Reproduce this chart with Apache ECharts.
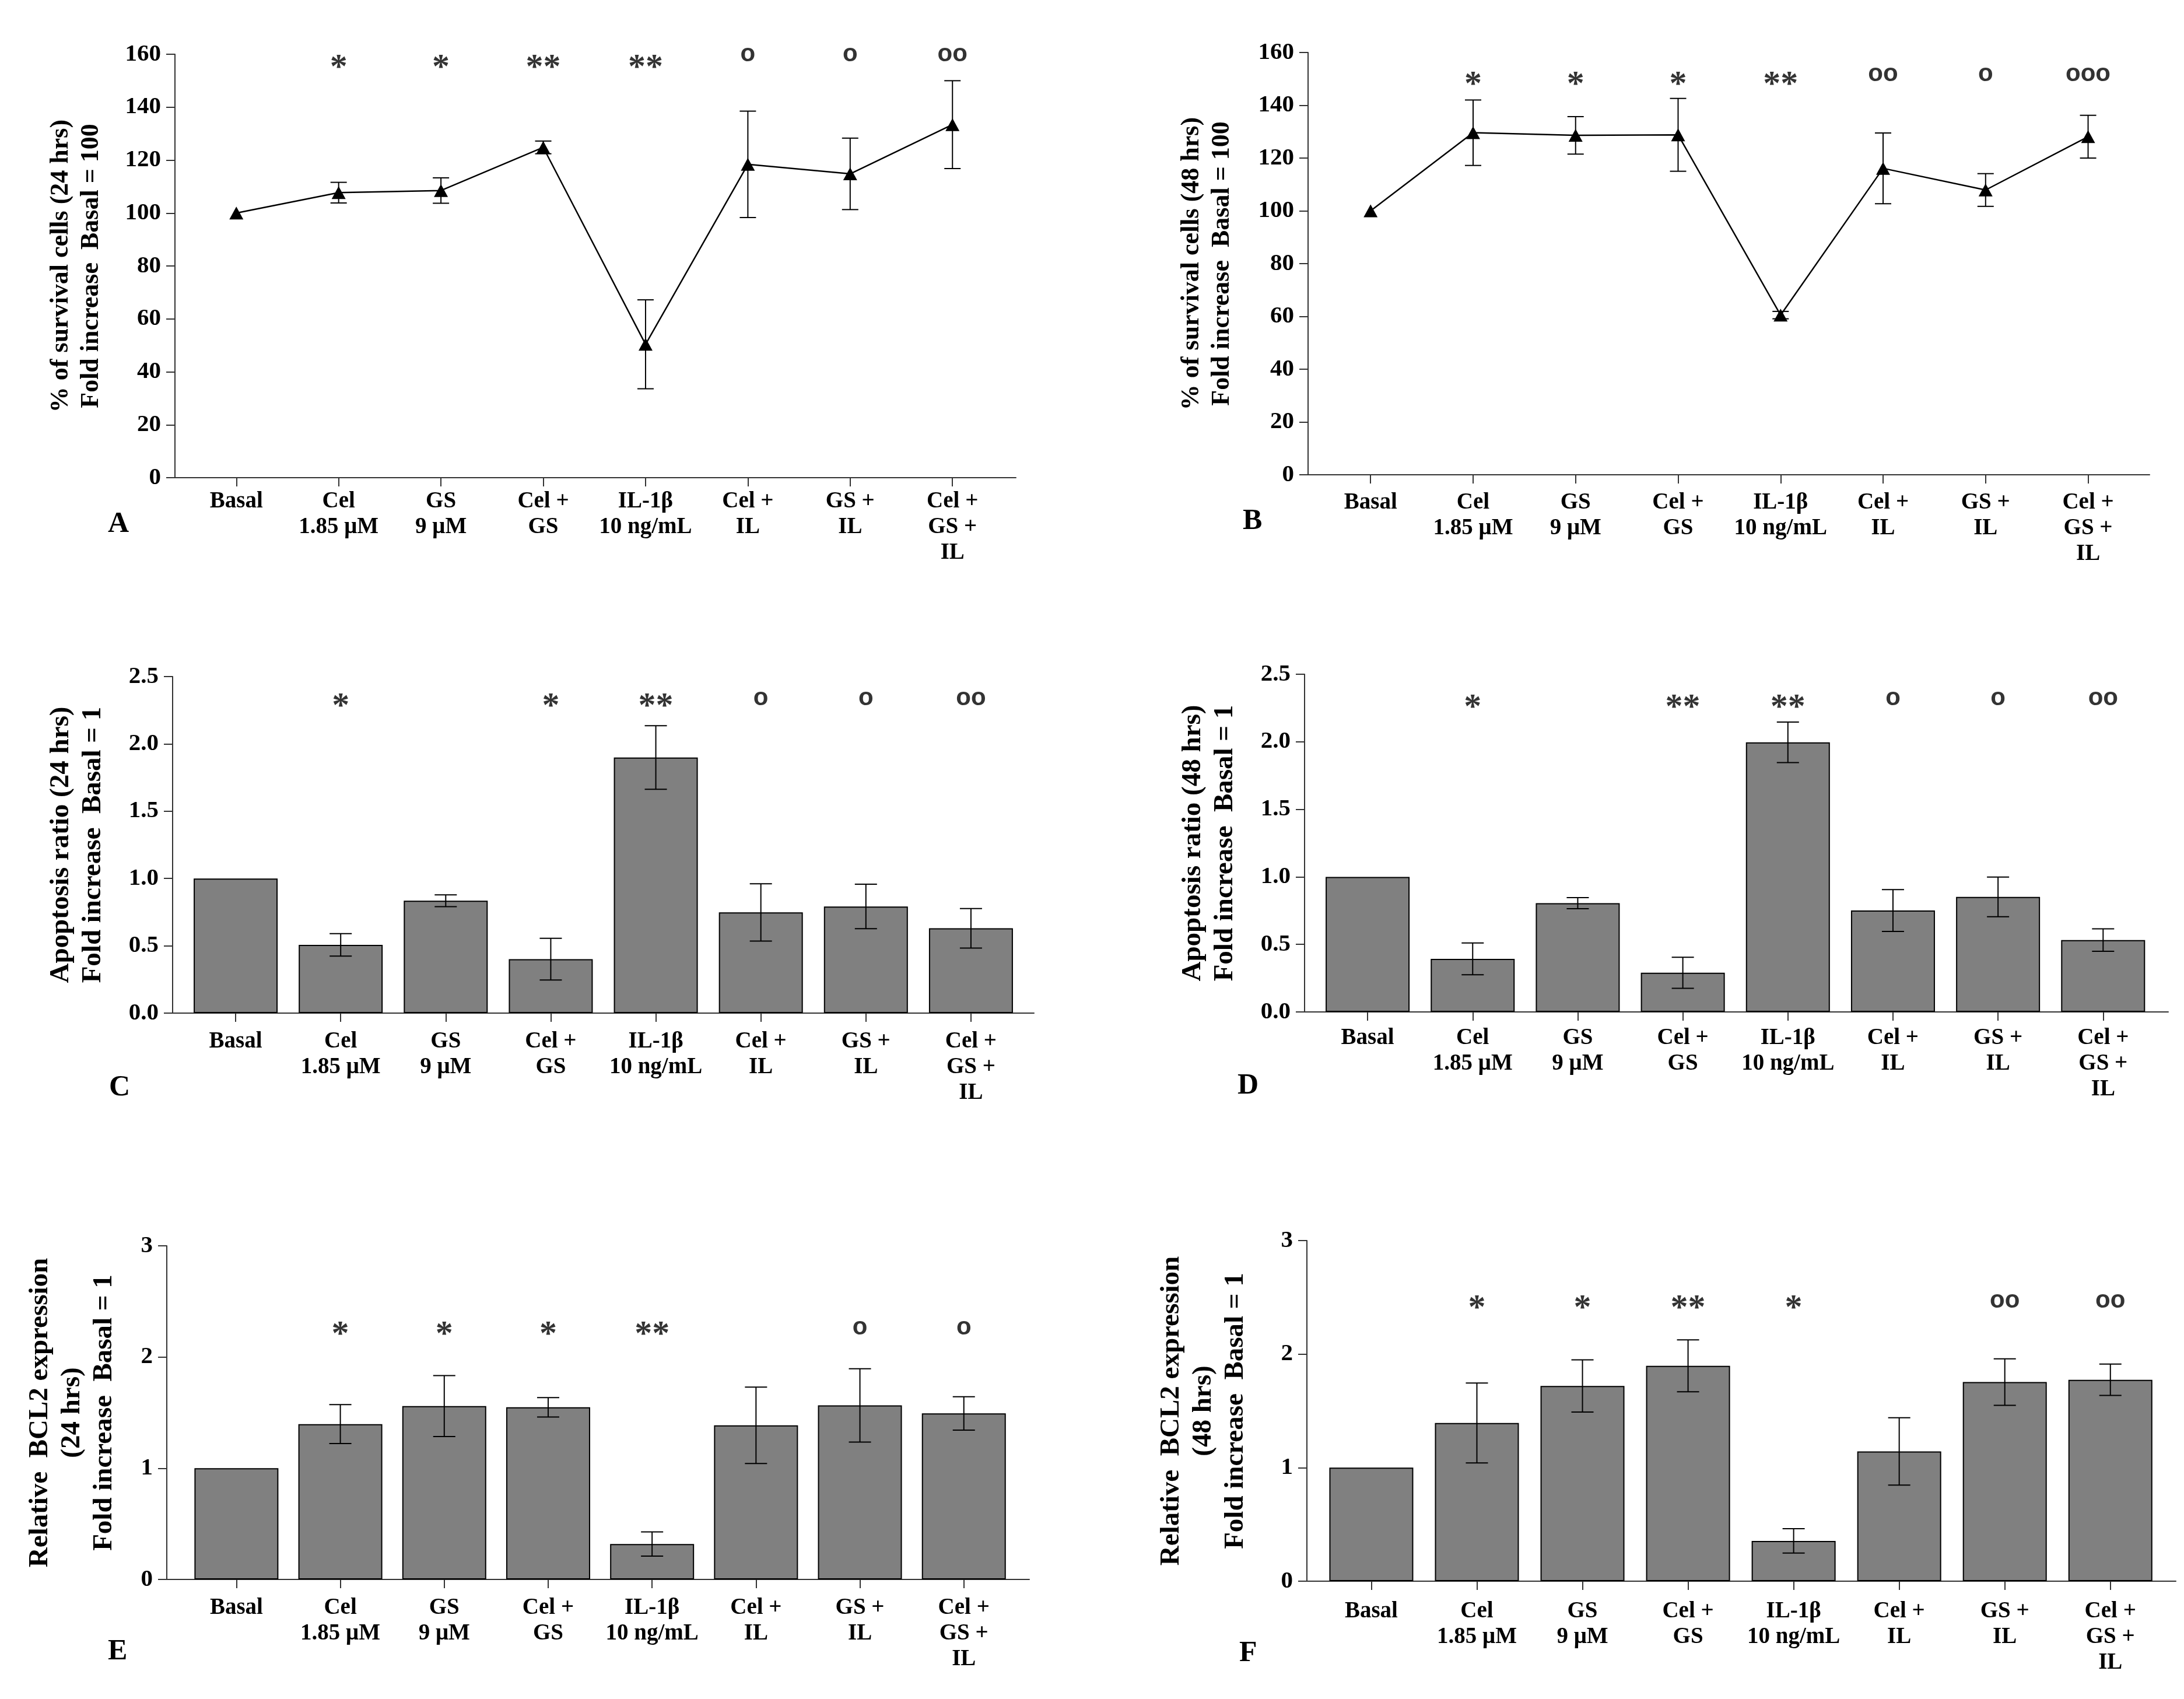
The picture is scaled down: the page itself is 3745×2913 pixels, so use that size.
<!DOCTYPE html>
<html><head><meta charset="utf-8">
<script src="https://cdn.jsdelivr.net/npm/echarts@6/dist/echarts.min.js"></script>
<style>html,body{margin:0;padding:0;background:#fff}#c{width:3745px;height:2913px}</style>
</head><body><div id="c"></div>
<script>
// ---------- data ----------
const categories = ['Basal', 'Cel\n1.85 μM', 'GS\n9 μM', 'Cel +\nGS', 'IL-1β\n10 ng/mL', 'Cel +\nIL', 'GS +\nIL', 'Cel +\nGS +\nIL'];

const survival24 = [100, 107.7, 108.5, 124.8, 50.4, 118.4, 114.8, 133.4];
const survival24Err = [0, 3.9, 4.8, 2.4, 16.8, 20.1, 13.5, 16.6];
const survival48 = [100, 129.6, 128.6, 128.8, 60.5, 116.1, 107.9, 128.1];
const survival48Err = [0, 12.4, 7.1, 13.8, 1.4, 13.4, 6.2, 8.1];

const apoptosis24 = [1.0, 0.507, 0.835, 0.401, 1.899, 0.748, 0.792, 0.630];
const apoptosis24Err = [0, 0.083, 0.044, 0.155, 0.236, 0.213, 0.165, 0.147];
const apoptosis48 = [1.0, 0.393, 0.805, 0.290, 1.996, 0.751, 0.852, 0.532];
const apoptosis48Err = [0, 0.118, 0.041, 0.115, 0.150, 0.155, 0.147, 0.083];

const bcl2h24 = [1.0, 1.397, 1.559, 1.548, 0.319, 1.386, 1.565, 1.493];
const bcl2h24Err = [0, 0.175, 0.274, 0.087, 0.109, 0.343, 0.330, 0.150];
const bcl2h48 = [1.0, 1.393, 1.720, 1.897, 0.355, 1.143, 1.754, 1.774];
const bcl2h48Err = [0, 0.352, 0.230, 0.229, 0.107, 0.297, 0.205, 0.138];

const signifA = ['', '*', '*', '**', '**', 'o', 'o', 'oo'];
const signifB = ['', '*', '*', '*', '**', 'oo', 'o', 'ooo'];
const signifC = ['', '*', '', '*', '**', 'o', 'o', 'oo'];
const signifD = ['', '*', '', '**', '**', 'o', 'o', 'oo'];
const signifE = ['', '*', '*', '*', '**', '', 'o', 'o'];
const signifF = ['', '*', '*', '**', '*', '', 'oo', 'oo'];

const yTitleA = '% of survival cells (24 hrs)\nFold increase  Basal = 100';
const yTitleB = '% of survival cells (48 hrs)\nFold increase  Basal = 100';
const yTitleC = 'Apoptosis ratio (24 hrs)\nFold increase  Basal = 1';
const yTitleD = 'Apoptosis ratio (48 hrs)\nFold increase  Basal = 1';
const yTitleE = 'Relative  BCL2 expression\n(24 hrs)\nFold increase  Basal = 1';
const yTitleF = 'Relative  BCL2 expression\n(48 hrs)\nFold increase  Basal = 1';
const panelLetters = ['A', 'B', 'C', 'D', 'E', 'F'];

// ---------- layout ----------
const SERIF = 'Liberation Serif';
const panels = [
  {kind:'line', vals:survival24, err:survival24Err, sig:signifA, title:yTitleA,
   left:300, top:93, width:1442, height:726, xMin:-0.6, xMax:7.62, yMax:160, yInt:20, dec:0,
   nameGap:117, nameSize:44, labMargin:19, starY:156.5, circY:159.1, letter:[185,874]},
  {kind:'line', vals:survival48, err:survival48Err, sig:signifB, title:yTitleB,
   left:2243, top:90, width:1443, height:724, xMin:-0.61, xMax:7.6, yMax:160, yInt:20, dec:0,
   nameGap:121, nameSize:44, labMargin:26, starY:149.4, circY:150.9, letter:[2131,869]},
  {kind:'bar', vals:apoptosis24, err:apoptosis24Err, sig:signifC, title:yTitleC,
   left:296, top:1160, width:1477, height:577, xMin:-0.6, xMax:7.6, yMax:2.5, yInt:0.5, dec:1,
   nameGap:109, nameSize:47, labMargin:27, starY:2.311, circY:2.322, letter:[187,1840]},
  {kind:'bar', vals:apoptosis48, err:apoptosis48Err, sig:signifD, title:yTitleD,
   left:2237, top:1156, width:1481, height:579, xMin:-0.6, xMax:7.62, yMax:2.5, yInt:0.5, dec:1,
   nameGap:109, nameSize:47, labMargin:23, starY:2.288, circY:2.306, letter:[2122,1837]},
  {kind:'bar', vals:bcl2h24, err:bcl2h24Err, sig:signifE, title:yTitleE,
   left:286, top:2136, width:1479, height:572, xMin:-0.67, xMax:7.63, yMax:3, yInt:1, dec:0,
   nameGap:80, nameSize:47, labMargin:27, starY:2.24, circY:2.24, letter:[185,2807]},
  {kind:'bar', vals:bcl2h48, err:bcl2h48Err, sig:signifF, title:yTitleF,
   left:2241, top:2127, width:1490, height:584, xMin:-0.61, xMax:7.62, yMax:3, yInt:1, dec:0,
   nameGap:95, nameSize:47, labMargin:30, starY:2.445, circY:2.45, letter:[2125,2810]}
];

const idx = categories.map((c, i) => i);
const axisLineStyle = {color:'#333', width:2};

function errRenderer(capHalf) {
  return function (params, api) {
    const x = api.value(0), y = api.value(1), e = api.value(2);
    if (!e) return null;
    const t = api.coord([x, y + e]);
    const b = api.coord([x, y - e]);
    const st = {stroke:'#000', lineWidth:2};
    return {type:'group', children:[
      {type:'line', shape:{x1:t[0], y1:t[1], x2:b[0], y2:b[1]}, style:st},
      {type:'line', shape:{x1:t[0]-capHalf, y1:t[1], x2:t[0]+capHalf, y2:t[1]}, style:st},
      {type:'line', shape:{x1:b[0]-capHalf, y1:b[1], x2:b[0]+capHalf, y2:b[1]}, style:st}
    ]};
  };
}

const grid = [], xAxis = [], yAxis = [], series = [], title = [];
panels.forEach((p, i) => {
  grid.push({left:p.left, top:p.top, width:p.width, height:p.height, containLabel:false, outerBoundsMode:'none'});
  xAxis.push({
    type:'value', gridIndex:i, min:p.xMin, max:p.xMax,
    splitLine:{show:false},
    axisLine:{show:true, onZero:false, lineStyle:axisLineStyle},
    axisTick:{show:true, customValues:idx, length:15, lineStyle:axisLineStyle},
    axisLabel:{show:true, customValues:idx, margin:p.labMargin,
      formatter:(v) => categories[Math.round(v)] || '',
      fontFamily:SERIF, fontWeight:'bold', fontSize:39, lineHeight:44, color:'#000'}
  });
  yAxis.push({
    type:'value', gridIndex:i, min:0, max:p.yMax, interval:p.yInt,
    name:p.title, nameLocation:'middle', nameGap:p.nameGap, nameMoveOverlap:false,
    nameTextStyle:{fontFamily:SERIF, fontWeight:'bold', fontSize:p.nameSize, lineHeight:p.nameSize + 8, color:'#000'},
    splitLine:{show:false},
    axisLine:{show:true, onZero:false, lineStyle:axisLineStyle},
    axisTick:{show:true, length:15, lineStyle:axisLineStyle},
    axisLabel:{margin:24, fontFamily:SERIF, fontWeight:'bold', fontSize:41, color:'#000',
      formatter:(v) => v.toFixed(p.dec)}
  });

  const pts = p.vals.map((v, k) => [k, v]);
  if (p.kind === 'line') {
    series.push({type:'line', xAxisIndex:i, yAxisIndex:i, data:pts, symbol:'triangle', symbolSize:[24, 22],
      itemStyle:{color:'#000'}, lineStyle:{color:'#000', width:2.5}, z:3, silent:true});
  } else {
    series.push({type:'bar', xAxisIndex:i, yAxisIndex:i, data:pts, barWidth:144,
      itemStyle:{color:'#808080', borderColor:'#000', borderWidth:2}, z:2, silent:true});
  }
  series.push({type:'custom', xAxisIndex:i, yAxisIndex:i, renderItem:errRenderer(p.kind === 'line' ? 14 : 19),
    data:p.vals.map((v, k) => [k, v, p.err[k]]), encode:{x:0, y:1}, z:4, silent:true});

  const stars = [], circs = [];
  p.sig.forEach((s, k) => {
    if (!s) return;
    if (s.indexOf('*') >= 0) stars.push({value:[k, p.starY], name:s});
    else circs.push({value:[k, p.circY], name:s});
  });
  series.push({type:'scatter', xAxisIndex:i, yAxisIndex:i, data:stars, symbolSize:0.1, silent:true, z:5,
    label:{show:true, position:'inside', offset:[0, 9], formatter:(q) => q.name,
      fontFamily:SERIF, fontWeight:'bold', fontSize:60, color:'#000'}});
  series.push({type:'scatter', xAxisIndex:i, yAxisIndex:i, data:circs, symbolSize:0.1, silent:true, z:5,
    label:{show:true, position:'inside', offset:[0, -4], formatter:(q) => q.name,
      fontFamily:'Liberation Sans', fontWeight:'bold', fontSize:42, color:'#000'}});

  title.push({text:panelLetters[i], left:p.letter[0], top:p.letter[1], padding:0,
    textStyle:{fontFamily:SERIF, fontWeight:'bold', fontSize:50, color:'#000'}});
});

const chart = echarts.init(document.getElementById('c'), null, {renderer:'canvas'});
chart.setOption({backgroundColor:'#fff', animation:false, title, grid, xAxis, yAxis, series});
</script>
</body></html>
